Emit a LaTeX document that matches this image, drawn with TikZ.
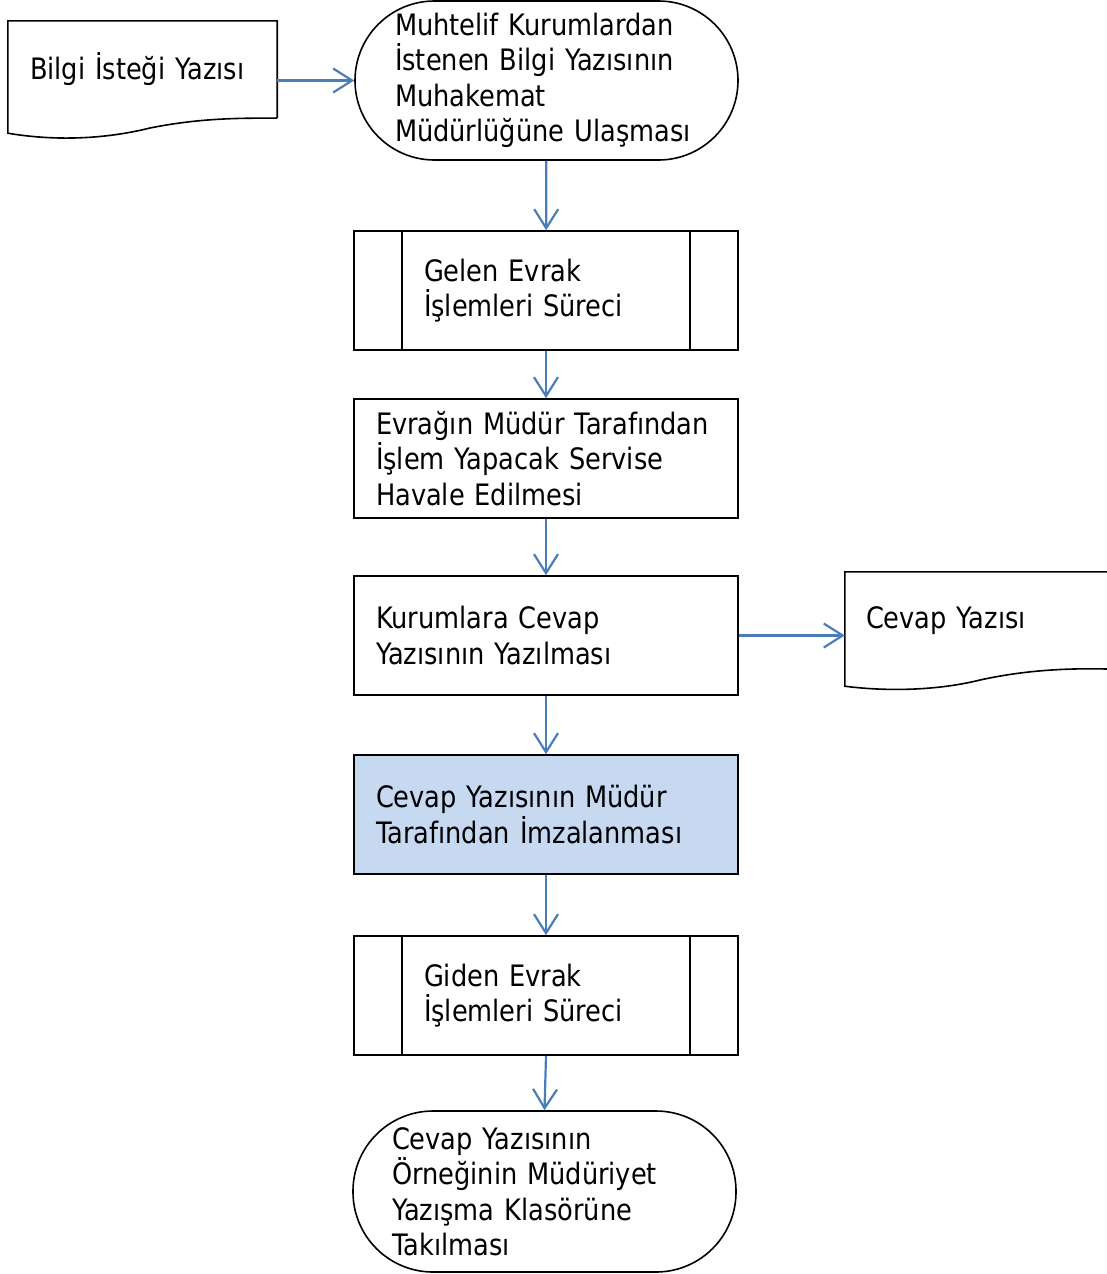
\documentclass[tikz,border=0pt]{standalone}
\usepackage{fontspec}
\setmainfont{DejaVu Sans}[FakeStretch=0.87]
\usetikzlibrary{arrows.meta}
\definecolor{flowblue}{HTML}{4A7EBB}
\definecolor{boxblue}{HTML}{C6D9F1}
\tikzset{
  >={Straight Barb[length=19pt,width=24pt]},
  every node/.style = {font=\fontsize{29.5}{35.5}\selectfont, align=left, inner sep=0pt},
  flow/.style = {->, draw=flowblue, line width=2.2pt},
  stepbox/.style = {draw, line width=1.6pt, minimum width=384, minimum height=119},
  termbox/.style = {stepbox, rounded corners=79.5, minimum width=383, minimum height=159},
  subproc/.style = {stepbox, path picture={
      \draw[line width=1.6pt] ([xshift=48]path picture bounding box.north west)
        -- ([xshift=48]path picture bounding box.south west);
      \draw[line width=1.6pt] ([xshift=-48]path picture bounding box.north east)
        -- ([xshift=-48]path picture bounding box.south east);}},
  docbox/.style = {minimum width=269, minimum height=97}
}

\begin{document}
\begin{tikzpicture}[x=1pt,y=-1pt]
  \useasboundingbox (0,0) rectangle (1106,1274);
  % documents
  \node[docbox, text width=225] (bilgi) at (142.5,69.5) {Bilgi İsteği Yazısı};
  \draw[line width=1.6pt] (bilgi.south east) -- (bilgi.north east) -- (bilgi.north west)
    -- ([yshift=-15]bilgi.south west)
    .. controls (60,142) and (110,138) .. (150,128)
    .. controls (200,118) and (240,118) .. (bilgi.south east);
  \node[docbox, text width=227] (cevapdoc) at (979.5,620.5) {Cevap Yazısı};
  \draw[line width=1.6pt] (cevapdoc.south east) -- (cevapdoc.north east) -- (cevapdoc.north west)
    -- ([yshift=-17]cevapdoc.south west)
    .. controls (890,692) and (940,690) .. (980,680)
    .. controls (1030,669) and (1075,668) .. (cevapdoc.south east);
  % main column
  \node[termbox, text width=303] (start) at (546.5,80.5)
    {Muhtelif Kurumlardan\\İstenen Bilgi Yazısının\\Muhakemat\\Müdürlüğüne Ulaşması};
  \node[subproc, text width=244] (gelen) at (546,290.5) {Gelen Evrak\\İşlemleri Süreci};
  \node[stepbox, text width=340] (havale) at (546,458.5)
    {Evrağın Müdür Tarafından\\İşlem Yapacak Servise\\Havale Edilmesi};
  \node[stepbox, text width=340] (cevap) at (546,635.5) {Kurumlara Cevap\\Yazısının Yazılması};
  \node[stepbox, fill=boxblue, text width=340] (imza) at (546,814.5)
    {Cevap Yazısının Müdür\\Tarafından İmzalanması};
  \node[subproc, text width=244] (giden) at (546,995.5) {Giden Evrak\\İşlemleri Süreci};
  \node[termbox, text width=305, minimum height=161, rounded corners=80] (son) at (544.5,1191.5)
    {Cevap Yazısının\\Örneğinin Müdüriyet\\Yazışma Klasörüne\\Takılması};
  % arrows
  \draw[flow] (bilgi.east |- start.west) -- (start.west);
  \draw[flow] (start) -- (gelen);
  \draw[flow] (gelen) -- (havale);
  \draw[flow] (havale) -- (cevap);
  \draw[flow] (cevap.east) -- (cevap.east -| cevapdoc.west);
  \draw[flow] (cevap) -- (imza);
  \draw[flow] (imza) -- (giden);
  \draw[flow] (giden.south) -- (son.north);
\end{tikzpicture}
\end{document}
